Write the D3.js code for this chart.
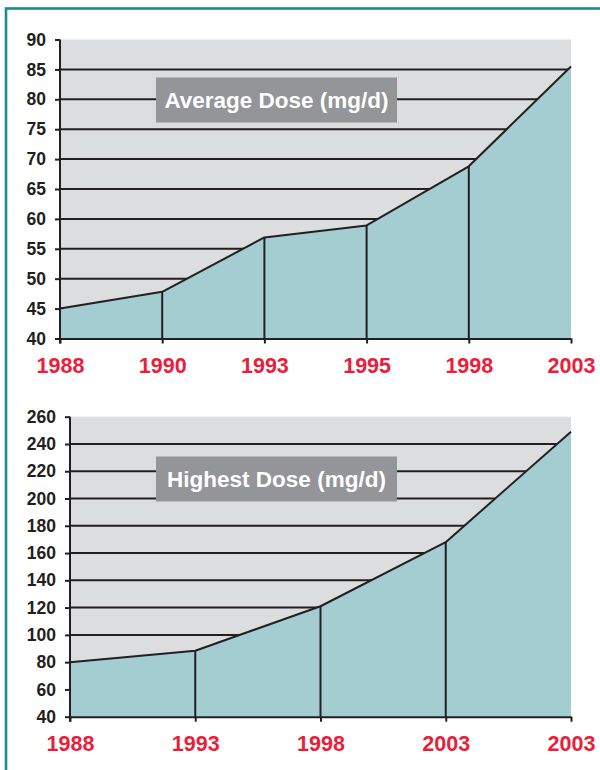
<!DOCTYPE html>
<html>
<head>
<meta charset="utf-8">
<script src="https://cdn.jsdelivr.net/npm/d3@7"></script>
<style>
  body { margin: 0; background: #fff; }
  svg { display: block; font-family: "Liberation Sans", Arial, sans-serif; font-weight: bold; }
</style>
</head>
<body>
<svg id="chart" width="600" height="770"></svg>
<script>
// chart 1 : average dose
const avgYears = ['1988', '1990', '1993', '1995', '1998', '2003'];
const avgDose = [45, 47.8, 56.9, 58.9, 68.8, 85.5];
const avgTicks = [40, 45, 50, 55, 60, 65, 70, 75, 80, 85, 90];

// chart 2 : highest dose (the last label really is 2003 twice)
const highYears = ['1988', '1993', '1998', '2003', '2003'];
const highDose = [80, 88.4, 121, 168, 249];
const highTicks = [40, 60, 80, 100, 120, 140, 160, 180, 200, 220, 240, 260];

const svg = d3.select('#chart');

// teal frame
svg.append('rect')
  .attr('x', 6).attr('y', 8.5)
  .attr('width', 620).attr('height', 800)
  .attr('fill', 'none')
  .attr('stroke', '#1b8b8b')
  .attr('stroke-width', 2.6);

function drawChart(opt) {
  const g = svg.append('g');
  const x = d3.scalePoint()
    .domain(d3.range(opt.labels.length))
    .range([opt.left, opt.right]);
  const y = d3.scaleLinear()
    .domain([opt.ticks[0], opt.ticks[opt.ticks.length - 1]])
    .range([opt.bottom, opt.top]);

  // grey plot background
  g.append('rect')
    .attr('x', opt.left).attr('y', y.range()[1])
    .attr('width', opt.right - opt.left)
    .attr('height', y.range()[0] - y.range()[1])
    .attr('fill', '#dcdddf');

  // gridlines (not at the top value)
  g.selectAll('line.grid')
    .data(opt.ticks.slice(1, -1))
    .enter().append('line')
    .attr('class', 'grid')
    .attr('x1', opt.left).attr('x2', opt.right)
    .attr('y1', d => y(d)).attr('y2', d => y(d))
    .attr('stroke', '#231f20')
    .attr('stroke-width', 2);

  // title box
  const tb = g.append('g').attr('transform', `translate(${opt.boxX},${opt.boxY})`);
  tb.append('rect')
    .attr('width', 241).attr('height', 45)
    .attr('fill', '#939598');
  tb.append('text')
    .attr('x', 120.5).attr('y', 30.5)
    .attr('text-anchor', 'middle')
    .attr('fill', '#fff')
    .style('font-size', '22.5px')
    .text(opt.title);

  const area = d3.area()
    .x((d, i) => x(i))
    .y0(y.range()[0])
    .y1(d => y(d));
  const line = d3.line()
    .x((d, i) => x(i))
    .y(d => y(d));

  g.append('path')
    .datum(opt.values)
    .attr('d', area)
    .attr('fill', '#a3cdd1');

  // drop lines from the inner points
  g.selectAll('line.drop')
    .data(opt.values.slice(1, -1))
    .enter().append('line')
    .attr('class', 'drop')
    .attr('x1', (d, i) => x(i + 1)).attr('x2', (d, i) => x(i + 1))
    .attr('y1', d => y(d)).attr('y2', y.range()[0])
    .attr('stroke', '#231f20')
    .attr('stroke-width', 2);

  g.append('path')
    .datum(opt.values)
    .attr('d', line)
    .attr('fill', 'none')
    .attr('stroke', '#231f20')
    .attr('stroke-width', 2)
    .attr('stroke-linejoin', 'round');

  // axes
  const yAxis = g.append('g')
    .attr('transform', `translate(${opt.left},0)`)
    .call(d3.axisLeft(y).tickValues(opt.ticks).tickSizeInner(5).tickSizeOuter(0).tickPadding(9));
  const xAxis = g.append('g')
    .attr('transform', `translate(0,${opt.bottom})`)
    .call(d3.axisBottom(x).tickFormat(i => opt.labels[i]).tickSizeInner(5).tickSizeOuter(0).tickPadding(14));

  [yAxis, xAxis].forEach(a => {
    a.select('.domain').attr('stroke', '#231f20').attr('stroke-width', 2);
    a.selectAll('.tick line').attr('stroke', '#231f20').attr('stroke-width', 2);
    a.attr('font-family', null).attr('font-size', null);
  });
  yAxis.select('.domain').attr('d', `M0,${y.range()[1]}V${opt.bottom + 5}`);
  yAxis.selectAll('.tick text')
    .attr('fill', '#231f20')
    .style('font-size', '17.5px');
  xAxis.selectAll('.tick text')
    .attr('fill', '#ea1d3b')
    .style('font-size', '21.5px');
}

drawChart({
  labels: avgYears, values: avgDose, ticks: avgTicks,
  left: 60, right: 571, top: 39.5, bottom: 338.5,
  title: 'Average Dose (mg/d)', boxX: 156, boxY: 77.5
});

drawChart({
  labels: highYears, values: highDose, ticks: highTicks,
  left: 70, right: 571, top: 416.7, bottom: 716.7,
  title: 'Highest Dose (mg/d)', boxX: 156, boxY: 456.5
});
</script>
</body>
</html>
